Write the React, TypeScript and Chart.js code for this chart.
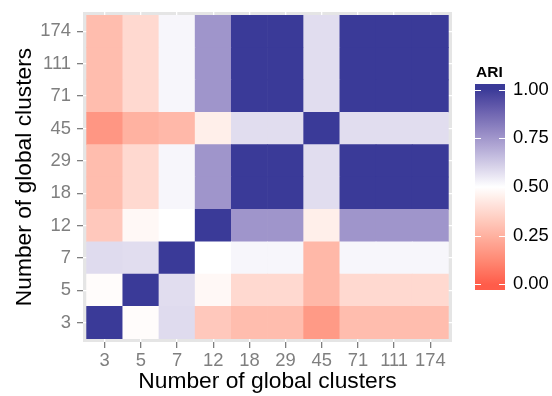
import React, { useEffect, useRef } from "react";
import { Chart, registerables } from "chart.js";

Chart.register(...registerables);

// ---------- data ----------
const clusterLabels = ["3", "5", "7", "12", "18", "29", "45", "71", "111", "174"];

// ARI rows (y category, bottom to top), values per x category (left to right)
const ariRow3 = [1, 0.49, 0.585, 0.323, 0.285, 0.285, 0.175, 0.285, 0.285, 0.285];
const ariRow5 = [0.49, 1, 0.58, 0.476, 0.378, 0.378, 0.27, 0.378, 0.378, 0.378];
const ariRow7 = [0.585, 0.58, 1, 0.5, 0.521, 0.521, 0.27, 0.521, 0.521, 0.521];
const ariRow12 = [0.323, 0.476, 0.5, 1, 0.755, 0.755, 0.447, 0.755, 0.755, 0.755];
const ariRow18 = [0.285, 0.378, 0.521, 0.755, 1, 1, 0.58, 1, 1, 1];
const ariRow29 = [0.285, 0.378, 0.521, 0.755, 1, 1, 0.58, 1, 1, 1];
const ariRow45 = [0.165, 0.25, 0.272, 0.447, 0.58, 0.58, 1, 0.58, 0.58, 0.58];
const ariRow71 = [0.285, 0.378, 0.521, 0.755, 1, 1, 0.58, 1, 1, 1];
const ariRow111 = [0.285, 0.378, 0.521, 0.755, 1, 1, 0.58, 1, 1, 1];
const ariRow174 = [0.285, 0.378, 0.521, 0.755, 1, 1, 0.58, 1, 1, 1];

const ariRows = [ariRow3, ariRow5, ariRow7, ariRow12, ariRow18, ariRow29, ariRow45, ariRow71, ariRow111, ariRow174];

const legendTicks = [0, 0.25, 0.5, 0.75, 1];
const legendTitle = "ARI";
const axisTitle = "Number of global clusters";

const lowColor = "#FF5C4A";
const midColor = "#FFFFFF";
const highColor = "#3A3A98";
const midpoint = 0.5;

// ---------- colour helpers (Lab interpolation like ggplot's gradient2) ----------
type Lab = [number, number, number];
function hexToRgb(h: string): [number, number, number] {
  const s = h.replace("#", "");
  return [parseInt(s.slice(0, 2), 16), parseInt(s.slice(2, 4), 16), parseInt(s.slice(4, 6), 16)];
}
function toLin(c: number) {
  const v = c / 255;
  return v <= 0.04045 ? v / 12.92 : Math.pow((v + 0.055) / 1.055, 2.4);
}
function fromLin(v: number) {
  const c = v <= 0.0031308 ? 12.92 * v : 1.055 * Math.pow(v, 1 / 2.4) - 0.055;
  return Math.max(0, Math.min(255, Math.round(c * 255)));
}
const Xn = 0.95047, Yn = 1.0, Zn = 1.08883;
function f(t: number) {
  return t > 216 / 24389 ? Math.cbrt(t) : (24389 / 27 * t + 16) / 116;
}
function finv(t: number) {
  return t * t * t > 216 / 24389 ? t * t * t : (116 * t - 16) / (24389 / 27);
}
function rgbToLab(rgb: [number, number, number]): Lab {
  const [r, g, b] = rgb.map(toLin);
  const X = 0.4124 * r + 0.3576 * g + 0.1805 * b;
  const Y = 0.2126 * r + 0.7152 * g + 0.0722 * b;
  const Z = 0.0193 * r + 0.1192 * g + 0.9505 * b;
  const fx = f(X / Xn), fy = f(Y / Yn), fz = f(Z / Zn);
  return [116 * fy - 16, 500 * (fx - fy), 200 * (fy - fz)];
}
function labToRgbStr(lab: Lab): string {
  const fy = (lab[0] + 16) / 116;
  const fx = fy + lab[1] / 500;
  const fz = fy - lab[2] / 200;
  const X = Xn * finv(fx), Y = Yn * finv(fy), Z = Zn * finv(fz);
  const r = 3.2406 * X - 1.5372 * Y - 0.4986 * Z;
  const g = -0.9689 * X + 1.8758 * Y + 0.0415 * Z;
  const b = 0.0557 * X - 0.204 * Y + 1.057 * Z;
  return `rgb(${fromLin(r)},${fromLin(g)},${fromLin(b)})`;
}
const labLow = rgbToLab(hexToRgb(lowColor));
const labMid = rgbToLab(hexToRgb(midColor));
const labHigh = rgbToLab(hexToRgb(highColor));
function colorFor(v: number): string {
  const t = Math.max(0, Math.min(1, v));
  let a: Lab, b: Lab, u: number;
  if (t < midpoint) {
    a = labLow; b = labMid; u = t / midpoint;
  } else {
    a = labMid; b = labHigh; u = (t - midpoint) / (1 - midpoint);
  }
  return labToRgbStr([a[0] + (b[0] - a[0]) * u, a[1] + (b[1] - a[1]) * u, a[2] + (b[2] - a[2]) * u]);
}

const FONT = "'Liberation Sans', Arial, Helvetica, sans-serif";
const TICK_SIZE = 18.4;

// ---------- plugins ----------
const panelBg = {
  id: "panelBg",
  beforeDraw(chart: any) {
    const { ctx, chartArea } = chart;
    ctx.save();
    ctx.fillStyle = "#E5E5E5";
    ctx.fillRect(chartArea.left, chartArea.top, chartArea.right - chartArea.left, chartArea.bottom - chartArea.top);
    ctx.restore();
  },
};

const colorbarLegend = {
  id: "colorbarLegend",
  afterDraw(chart: any) {
    const { ctx, chartArea } = chart;
    const x0 = chartArea.right + 23;
    const w = 30;
    const barTop = 84;
    const barBottom = 290;
    const vTopY = 89.5;
    const vBottomY = 284.3;
    const yOf = (v: number) => vBottomY - v * (vBottomY - vTopY);
    const vOf = (y: number) => (vBottomY - y) / (vBottomY - vTopY);
    ctx.save();
    // title
    ctx.fillStyle = "#000";
    ctx.font = `bold 15.5px ${FONT}`;
    ctx.textAlign = "left";
    ctx.textBaseline = "alphabetic";
    ctx.fillText(legendTitle, x0 + 1, 77);
    // gradient bar
    const grad = ctx.createLinearGradient(0, barBottom, 0, barTop);
    const n = 40;
    for (let i = 0; i <= n; i++) {
      const y = barBottom - (i / n) * (barBottom - barTop);
      grad.addColorStop(i / n, colorFor(vOf(y)));
    }
    ctx.fillStyle = grad;
    ctx.fillRect(x0, barTop, w, barBottom - barTop);
    // ticks and labels
    ctx.strokeStyle = "#FFFFFF";
    ctx.lineWidth = 1;
    ctx.fillStyle = "#000";
    ctx.font = `${TICK_SIZE}px ${FONT}`;
    ctx.textBaseline = "middle";
    legendTicks.forEach((v) => {
      const y = Math.round(yOf(v)) + 0.5;
      ctx.beginPath();
      ctx.moveTo(x0, y);
      ctx.lineTo(x0 + 6, y);
      ctx.moveTo(x0 + w - 6, y);
      ctx.lineTo(x0 + w, y);
      ctx.stroke();
      ctx.fillText(v.toFixed(2), x0 + w + 8, yOf(v));
    });
    ctx.restore();
  },
};

export default function App() {
  const ref = useRef<HTMLCanvasElement | null>(null);

  useEffect(() => {
    if (!ref.current) return;
    const datasets = ariRows.map((row, r) => ({
      label: clusterLabels[r],
      data: row.map((v, c) => ({ x: c, y: [r - 0.5, r + 0.5], v })),
      backgroundColor: row.map((v) => colorFor(v)),
      borderWidth: 0,
      barPercentage: 1,
      categoryPercentage: 1,
      grouped: false,
    }));

    const tickFont = { family: FONT, size: TICK_SIZE };
    const titleFont = { family: FONT, size: 22.8, lineHeight: 1 };

    const chart = new Chart(ref.current, {
      type: "bar",
      data: { datasets: datasets as any },
      options: {
        animation: false,
        responsive: false,
        devicePixelRatio: 1,
        layout: { padding: { left: 0, top: 12, right: 100, bottom: 0 } },
        plugins: { legend: { display: false }, tooltip: { enabled: false } },
        scales: {
          x: {
            type: "linear",
            offset: false,
            min: -0.6,
            max: 9.6,
            afterBuildTicks: (s: any) => {
              s.ticks = clusterLabels.map((_, i) => ({ value: i }));
            },
            afterFit: (s: any) => {
              s.height = 54;
              s.paddingLeft = 0;
              s.paddingRight = 0;
            },
            ticks: {
              autoSkip: false,
              maxRotation: 0,
              color: "#7F7F7F",
              font: tickFont,
              padding: 2,
              callback: (v: any) => clusterLabels[v as number],
            },
            grid: { offset: false, color: "#FFFFFF", lineWidth: 1.3, tickColor: "#7F7F7F", tickLength: 6, tickWidth: 1.3 },
            border: { display: false },
            title: { display: true, text: axisTitle, color: "#000", font: titleFont, padding: { top: 0, bottom: 2.5 } },
          },
          y: {
            type: "linear",
            offset: false,
            min: -0.6,
            max: 9.6,
            afterBuildTicks: (s: any) => {
              s.ticks = clusterLabels.map((_, i) => ({ value: i }));
            },
            afterFit: (s: any) => {
              s.width = 83;
              s.paddingTop = 0;
              s.paddingBottom = 0;
            },
            ticks: {
              autoSkip: false,
              color: "#7F7F7F",
              font: tickFont,
              padding: 6,
              callback: (v: any) => clusterLabels[v as number],
            },
            grid: { offset: false, color: "#FFFFFF", lineWidth: 1.3, tickColor: "#7F7F7F", tickLength: 6, tickWidth: 1.3 },
            border: { display: false },
            title: { display: true, text: axisTitle, color: "#000", font: titleFont, padding: { top: 13, bottom: 0 } },
          },
        },
      } as any,
      plugins: [panelBg, colorbarLegend],
    });
    return () => chart.destroy();
  }, []);

  return (
    <div style={{ width: 552, height: 396, position: "relative" }}>
      <style>{"body{margin:0;overflow:hidden}"}</style>
      <canvas ref={ref} width={552} height={396} style={{ display: "block" }} />
    </div>
  );
}
